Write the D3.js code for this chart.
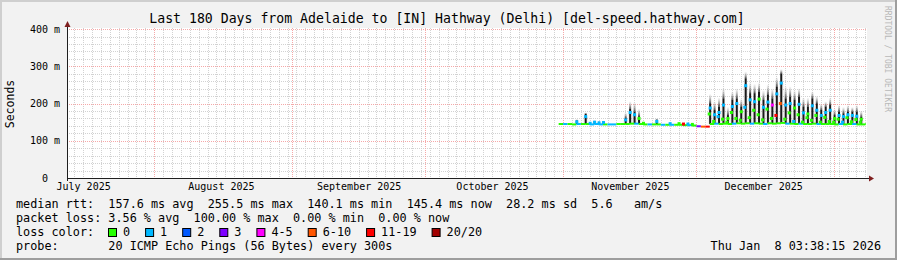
<!DOCTYPE html>
<html>
<head>
<meta charset="utf-8">
<script src="https://cdn.jsdelivr.net/npm/d3@7"></script>
<style>
  html, body { margin: 0; padding: 0; background: #f2f2f2; }
  svg { display: block; }
  text { font-family: "DejaVu Sans Mono", monospace; fill: #000; }
</style>
</head>
<body>
<div id="chart"></div>
<script>
// Values, one entry per day starting at firstDay.
const firstDay = '2025-10-31';
// median rtt at the quiet part of the day (ms)
const baseMs = [145,145,145,144,145,145,145,144,145,144,144,144,144,145,145,145,146,146,145,144,
  144,144,144,143,143,143,143,143,142,142,141,139,138,138,145,146,145,146,145,146,
  147,146,147,146,147,146,145,147,146,147,148,146,146,145,146,145,145,146,145,145,
  145,145,144,145,144,145,145,144,144,145];
// median rtt at the evening peak (ms)
const peakMs = [146,146,145,146,151,146,165,147,150,148,149,146,145,146,147,156,176,170,160,147,
  146,146,152,145,145,146,145,146,145,145,144,141,140,139,188,170,176,196,160,192,
  200,178,248,210,205,212,190,204,196,226,255,196,200,188,198,175,172,194,182,168,
  176,182,160,168,165,170,168,166,158,146];
// secondary median sample on the rising edge (ms), null where none
const shoulderMs = [null,null,null,null,null,null,null,null,null,null,null,null,null,null,null,null,null,null,null,null,
  null,null,null,null,null,null,null,null,null,null,null,null,null,null,172,152,165,158,150,176,
  160,155,190,162,182,170,156,185,160,168,200,158,175,152,170,150,162,155,168,150,
  163,152,150,158,150,162,151,157,150,null];
// top of the dense smoke (ms)
const barMs = [147,147,147,147,154,147,172,148,152,150,151,147,147,147,148,162,186,178,166,148,
  147,147,156,146,146,147,146,147,146,146,145,142,141,141,201,183,192,214,169,210,
  214,192,268,228,228,232,210,223,214,245,281,214,219,210,219,192,192,214,201,183,
  192,196,169,178,174,178,178,178,165,147];
// top of the faint smoke (ms)
const smokeMs = [149,149,149,149,158,149,176,150,155,153,154,149,149,149,150,175,205,202,185,150,
  149,149,160,148,148,149,148,149,148,148,147,144,143,143,225,205,215,240,190,232,
  240,212,285,255,252,255,235,250,240,270,292,245,245,235,240,215,215,232,220,200,
  205,215,185,195,190,195,190,195,180,148];
// loss class (index into lossLabels) of each median sample
const baseLoss = [0,1,0,0,1,0,0,1,1,1,0,1,1,0,0,0,0,1,0,0,
  1,0,0,1,0,1,0,0,0,1,0,3,5,6,0,1,0,0,0,1,
  0,0,0,1,0,0,1,0,0,0,0,1,0,0,1,0,0,0,1,0,
  0,0,0,1,0,0,1,0,0,0];
const peakLoss = [0,1,0,0,1,0,1,1,1,1,1,1,1,0,0,1,1,1,0,0,
  1,0,1,1,0,1,0,0,6,1,0,3,5,6,1,1,1,1,0,1,
  1,0,1,1,1,0,1,1,4,1,1,1,1,0,1,1,0,1,1,1,
  1,1,0,1,1,1,1,1,0,0];
const shoulderLoss = [0,0,0,0,0,0,0,0,0,0,0,0,0,0,0,0,0,0,0,0,
  0,0,0,0,0,0,0,0,0,0,0,0,0,0,0,0,1,0,0,0,
  0,0,1,0,0,0,0,0,0,6,5,0,0,1,0,0,0,0,0,0,
  0,0,0,0,1,0,0,0,0,0];

const lossLabels = ['0', '1', '2', '3', '4-5', '6-10', '11-19', '20/20'];
const lossColors = ['#26ff00', '#00b8ff', '#0059ff', '#7e00ff', '#ff00ff', '#ff5500', '#ff0000', '#a10000'];

const yTicks = [0, 100, 200, 300, 400];
const yTickLabels = ['0  ', '100 m', '200 m', '300 m', '400 m'];

const title = 'Last 180 Days from Adelaide to [IN] Hathway (Delhi) [del-speed.hathway.com]';
const statRows = [
  'median rtt:  157.6 ms avg  255.5 ms max  140.1 ms min  145.4 ms now  28.2 ms sd  5.6   am/s',
  'packet loss: 3.56 % avg  100.00 % max  0.00 % min  0.00 % now',
  'loss color:',
  'probe:       20 ICMP Echo Pings (56 Bytes) every 300s'
];
const stamp = 'Thu Jan  8 03:38:15 2026';

// ---- layout ----
const W = 897, H = 260;
const plot = {left: 67, right: 867, top: 28, bottom: 178};
const tStart = new Date(2025, 6, 12, 3, 38, 15);
const tEnd = new Date(2026, 0, 8, 3, 38, 15);

const x = d3.scaleTime().domain([tStart, tEnd]).range([66, 866]);
const y = d3.scaleLinear().domain([0, 403]).range([plot.bottom, plot.top]);

const svg = d3.select('#chart').append('svg')
    .attr('width', W)
    .attr('height', H);

// background and shaded frame
svg.append('rect').attr('width', W).attr('height', H).attr('fill', '#f2f2f2');
svg.append('path').attr('d', `M0,${H} V0 H${W}`).attr('fill', 'none')
    .attr('stroke', '#cfcfcf').attr('stroke-width', 4);
svg.append('path').attr('d', `M0,${H} H${W} V0`).attr('fill', 'none')
    .attr('stroke', '#9e9e9e').attr('stroke-width', 4);

svg.append('rect')
    .attr('x', plot.left).attr('y', plot.top)
    .attr('width', plot.right - plot.left).attr('height', plot.bottom - plot.top)
    .attr('fill', '#fff');

// grid
const grid = svg.append('g').attr('shape-rendering', 'crispEdges');
const minorDays = d3.timeDay.range(new Date(2025, 6, 12), tEnd, 2).filter(d => d > tStart);
const months = d3.timeMonth.range(tStart, tEnd);
const minorY = d3.range(20, 401, 20).filter(v => v % 100 !== 0);
const majorY = [100, 200, 300, 400];
const minorCol = '#d2d2d2', majorCol = '#f5a8a8';

grid.selectAll('.vminor').data(minorDays).enter().append('line')
    .attr('x1', d => Math.round(x(d)) + 0.5).attr('x2', d => Math.round(x(d)) + 0.5)
    .attr('y1', plot.top).attr('y2', plot.bottom)
    .attr('stroke', minorCol).attr('stroke-dasharray', '1,1');
grid.selectAll('.hminor').data(minorY).enter().append('line')
    .attr('x1', plot.left).attr('x2', plot.right)
    .attr('y1', d => Math.round(y(d)) + 0.5).attr('y2', d => Math.round(y(d)) + 0.5)
    .attr('stroke', minorCol).attr('stroke-dasharray', '1,1');
grid.selectAll('.vmajor').data(months).enter().append('line')
    .attr('x1', d => Math.round(x(d)) + 0.5).attr('x2', d => Math.round(x(d)) + 0.5)
    .attr('y1', plot.top).attr('y2', plot.bottom)
    .attr('stroke', majorCol).attr('stroke-dasharray', '1,1');
grid.selectAll('.hmajor').data(majorY).enter().append('line')
    .attr('x1', plot.left).attr('x2', plot.right)
    .attr('y1', d => Math.round(y(d)) + 0.5).attr('y2', d => Math.round(y(d)) + 0.5)
    .attr('stroke', majorCol).attr('stroke-dasharray', '1,1');

// per-day records
const day0 = d3.timeParse('%Y-%m-%d')(firstDay);
const days = baseMs.map((b, i) => {
  const start = d3.timeDay.offset(day0, i);
  return {
    start: start,
    end: d3.min([d3.timeDay.offset(day0, i + 1), tEnd]),
    peakT: d3.timeHour.offset(start, 2),
    shT: d3.timeHour.offset(start, -3),
    base: b, peak: peakMs[i], shoulder: shoulderMs[i],
    bar: barMs[i], smoke: smokeMs[i],
    bl: baseLoss[i], pl: peakLoss[i], sl: shoulderLoss[i]
  };
});

// smoke
const defs = svg.append('defs');
const grad = defs.append('linearGradient').attr('id', 'fade')
    .attr('x1', 0).attr('y1', 1).attr('x2', 0).attr('y2', 0);
grad.append('stop').attr('offset', 0).attr('stop-color', '#303030').attr('stop-opacity', 0.85);
grad.append('stop').attr('offset', 1).attr('stop-color', '#b0b0b0').attr('stop-opacity', 0.12);

const spikes = days.filter(d => d.bar - d.base >= 5);
const smoke = svg.append('g');
smoke.selectAll('.halo').data(spikes).enter().append('rect')
    .attr('x', d => x(d.peakT) - 2.5).attr('width', 5)
    .attr('y', d => y(d.peak)).attr('height', d => y(d.base) - y(d.peak))
    .attr('fill', '#000').attr('opacity', 0.05);
smoke.selectAll('.fade').data(spikes).enter().append('rect')
    .attr('x', d => x(d.peakT) - 1).attr('width', 2)
    .attr('y', d => y(d.smoke)).attr('height', d => Math.max(0, y(d.bar) - y(d.smoke)))
    .attr('fill', 'url(#fade)');
smoke.selectAll('.core').data(spikes).enter().append('rect')
    .attr('x', d => x(d.peakT) - 1).attr('width', 2)
    .attr('y', d => y(d.bar)).attr('height', d => y(d.base) - y(d.bar))
    .attr('fill', '#1a1a1a');

// median line and samples, coloured by loss
const med = svg.append('g');
med.selectAll('.base').data(days).enter().append('line')
    .attr('x1', d => x(d.start)).attr('x2', d => x(d.end))
    .attr('y1', d => y(d.base)).attr('y2', d => y(d.base))
    .attr('stroke', d => lossColors[d.bl]).attr('stroke-width', 2);
med.selectAll('.sh').data(days.filter(d => d.shoulder != null)).enter().append('rect')
    .attr('x', d => x(d.shT) - 1.5).attr('y', d => y(d.shoulder) - 1.5)
    .attr('width', 3).attr('height', 3)
    .attr('fill', d => lossColors[d.sl]);
med.selectAll('.pk').data(days.filter(d => d.peak - d.base >= 3 || d.pl !== d.bl)).enter().append('rect')
    .attr('x', d => x(d.peakT) - 1.5).attr('y', d => y(d.peak) - 1.5)
    .attr('width', 3).attr('height', 3)
    .attr('fill', d => lossColors[d.pl]);

// axes
const yAxis = svg.append('g')
    .attr('transform', `translate(${plot.left},0)`)
    .call(d3.axisLeft(y).tickValues(yTicks).tickSize(0).tickPadding(7)
      .tickFormat((d, i) => yTickLabels[i]));
yAxis.select('.domain').remove();
yAxis.selectAll('text')
    .style('font-family', '"DejaVu Sans Mono", monospace')
    .style('font-size', '10px')
    .style('white-space', 'pre');

const labelDates = d3.timeMonth.range(new Date(2025, 6, 1), tEnd)
    .map(m => d3.timeDay.offset(m, 15))
    .filter(d => d > tStart && d < tEnd);
const xAxis = svg.append('g')
    .attr('transform', `translate(0,${plot.bottom})`)
    .call(d3.axisBottom(x).tickValues(labelDates).tickSize(0).tickPadding(5)
      .tickFormat(d3.timeFormat('%B %Y')));
xAxis.select('.domain').remove();
xAxis.selectAll('text')
    .style('font-family', '"DejaVu Sans Mono", monospace')
    .style('font-size', '10px');

svg.append('line')
    .attr('x1', plot.left).attr('x2', 870)
    .attr('y1', plot.bottom + 0.5).attr('y2', plot.bottom + 0.5)
    .attr('stroke', '#1f1f1f');
svg.append('line')
    .attr('x1', plot.left + 0.5).attr('x2', plot.left + 0.5)
    .attr('y1', plot.bottom + 3).attr('y2', 25)
    .attr('stroke', '#1f1f1f');
svg.append('path').attr('d', 'M869,175.5 L874,178.5 L869,181.5 Z').attr('fill', '#7f1f1f');
svg.append('path').attr('d', 'M64.5,27 L67.5,21 L70.5,27 Z').attr('fill', '#7f1f1f');

// titles
svg.append('text')
    .attr('x', 447).attr('y', 22.5)
    .attr('text-anchor', 'middle')
    .style('font-size', '13.2px')
    .text(title);
svg.append('text')
    .attr('transform', 'translate(13.5,104) rotate(-90)')
    .attr('text-anchor', 'middle')
    .style('font-size', '11.5px')
    .text('Seconds');
svg.append('text')
    .attr('transform', 'translate(885,6) rotate(90)')
    .style('font-size', '8px')
    .style('fill', '#b8b8b8')
    .text('RRDTOOL / TOBI OETIKER');

// legend
const rowY = [208, 222, 236, 250];
svg.selectAll('.stat').data(statRows).enter().append('text')
    .attr('x', 16).attr('y', (d, i) => rowY[i])
    .style('font-size', '11.8px')
    .style('white-space', 'pre')
    .text(d => d);
svg.append('text')
    .attr('x', 881).attr('y', rowY[3])
    .attr('text-anchor', 'end')
    .style('font-size', '11.8px')
    .style('white-space', 'pre')
    .text(stamp);

const charW = 7.1;
let lx = 108;
const entries = lossLabels.map((l, i) => {
  const e = {x: lx, label: l, color: lossColors[i]};
  lx += 15 + l.length * charW + 15;
  return e;
});
const leg = svg.append('g');
leg.selectAll('rect').data(entries).enter().append('rect')
    .attr('x', d => d.x + 0.5).attr('y', 228.5)
    .attr('width', 8).attr('height', 8)
    .attr('fill', d => d.color)
    .attr('stroke', '#000').attr('stroke-width', 1);
leg.selectAll('text').data(entries).enter().append('text')
    .attr('x', d => d.x + 15).attr('y', rowY[2])
    .style('font-size', '11.8px')
    .text(d => d.label);
</script>
</body>
</html>
